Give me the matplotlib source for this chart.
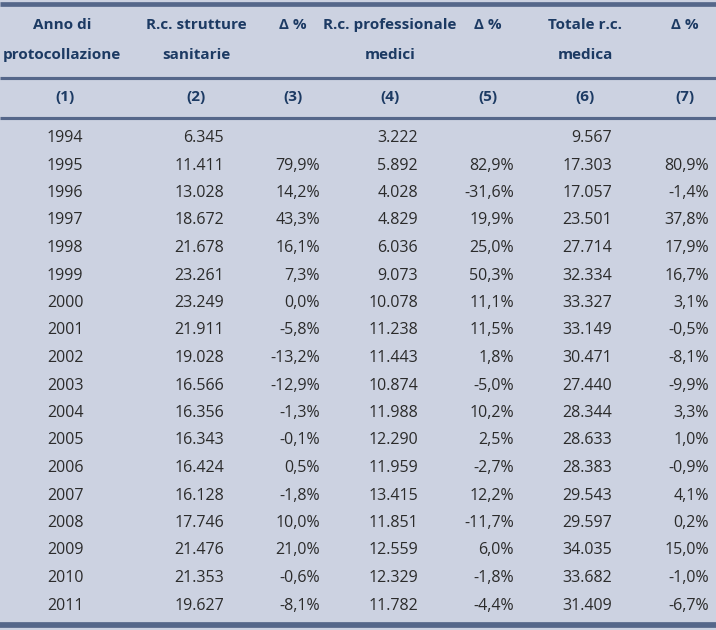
import matplotlib
matplotlib.use("Agg")
import matplotlib.pyplot as plt

years = [1994, 1995, 1996, 1997, 1998, 1999, 2000, 2001, 2002, 2003, 2004,
         2005, 2006, 2007, 2008, 2009, 2010, 2011]
strutture = ["6.345", "11.411", "13.028", "18.672", "21.678", "23.261", "23.249",
             "21.911", "19.028", "16.566", "16.356", "16.343", "16.424", "16.128",
             "17.746", "21.476", "21.353", "19.627"]
d_strutture = ["", "79,9%", "14,2%", "43,3%", "16,1%", "7,3%", "0,0%", "-5,8%",
               "-13,2%", "-12,9%", "-1,3%", "-0,1%", "0,5%", "-1,8%", "10,0%",
               "21,0%", "-0,6%", "-8,1%"]
medici = ["3.222", "5.892", "4.028", "4.829", "6.036", "9.073", "10.078", "11.238",
          "11.443", "10.874", "11.988", "12.290", "11.959", "13.415", "11.851",
          "12.559", "12.329", "11.782"]
d_medici = ["", "82,9%", "-31,6%", "19,9%", "25,0%", "50,3%", "11,1%", "11,5%",
            "1,8%", "-5,0%", "10,2%", "2,5%", "-2,7%", "12,2%", "-11,7%", "6,0%",
            "-1,8%", "-4,4%"]
totale = ["9.567", "17.303", "17.057", "23.501", "27.714", "32.334", "33.327",
          "33.149", "30.471", "27.440", "28.344", "28.633", "28.383", "29.543",
          "29.597", "34.035", "33.682", "31.409"]
d_totale = ["", "80,9%", "-1,4%", "37,8%", "17,9%", "16,7%", "3,1%", "-0,5%",
            "-8,1%", "-9,9%", "3,3%", "1,0%", "-0,9%", "4,1%", "0,2%", "15,0%",
            "-1,0%", "-6,7%"]
headers = [("Anno di", "protocollazione"), ("R.c. strutture", "sanitarie"), ("\u0394 %", ""),
           ("R.c. professionale", "medici"), ("\u0394 %", ""), ("Totale r.c.", "medica"),
           ("\u0394 %", "")]
numbers = ["(1)", "(2)", "(3)", "(4)", "(5)", "(6)", "(7)"]

W, H = 716, 630
fig = plt.figure(figsize=(W / 100, H / 100), dpi=100)
bg = "#ccd2e1"
fig.patch.set_facecolor(bg)
ax = fig.add_axes([0, 0, 1, 1])
ax.set_xlim(0, W)
ax.set_ylim(H, 0)
ax.axis("off")
ax.set_facecolor(bg)

line_c = "#55678a"
head_c = "#1c3a63"
body_c = "#2b2b2b"
font = "Open Sans"

for y, lw in [(4, 4.5), (78, 3), (117.5, 3), (625, 5.5)]:
    ax.plot([0, W], [y, y], color=line_c, lw=lw * 0.75, solid_capstyle="butt")

head_x = [62, 196, 293, 390, 488, 585, 685]
for x, (l1, l2) in zip(head_x, headers):
    ax.text(x, 25, l1, ha="center", va="center", fontsize=11, fontweight="bold",
            color=head_c, family=font)
    if l2:
        ax.text(x, 55, l2, ha="center", va="center", fontsize=11, fontweight="bold",
                color=head_c, family=font)
num_x = [65, 196, 293, 390, 488, 585, 685]
for x, t in zip(num_x, numbers):
    ax.text(x, 97, t, ha="center", va="center", fontsize=11, fontweight="bold",
            color=head_c, family=font)

right_x = [224, 320, 418, 514, 612, 709]
cols = [strutture, d_strutture, medici, d_medici, totale, d_totale]
y0, dy = 138, 27.5
for i, yr in enumerate(years):
    y = y0 + i * dy
    ax.text(65, y, str(yr), ha="center", va="center", fontsize=11.5, color=body_c,
            family=font)
    for x, col in zip(right_x, cols):
        if col[i]:
            ax.text(x, y, col[i], ha="right", va="center", fontsize=11.5,
                    color=body_c, family=font)

fig.savefig("out.png", dpi=100, facecolor=bg)
